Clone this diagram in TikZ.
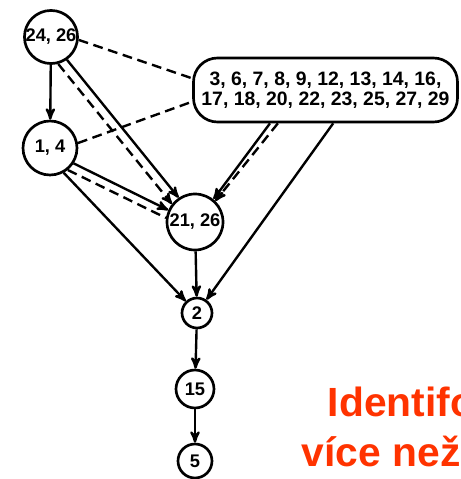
\documentclass[tikz,border=0pt]{standalone}
\usepackage{fontspec}
\setmainfont{Liberation Sans}
\usepackage{xcolor}
\usepackage{tikz}
\usetikzlibrary{calc}
\usetikzlibrary{arrows}
\definecolor{alertred}{RGB}{255,51,0}
\tikzset{
  setnode/.style={draw, circle, line width=1.9pt, inner sep=0,
    font=\bfseries\fontsize{13}{14}\selectfont},
  bigset/.style={draw, rounded corners=.6cm, line width=1.9pt,
    minimum width=6.6cm, minimum height=1.6cm, inner sep=0, align=center,
    font=\bfseries\fontsize{13.8}{14.2}\selectfont},
  dep/.style={black, line width=1.7pt, ->, >=stealth'},
  dashdep/.style={dep, dash pattern=on 7pt off 4pt},
  dashlink/.style={black, line width=1.7pt, dash pattern=on 7pt off 4pt},
  alerttext/.style={text=alertred, inner sep=0, font=\bfseries\fontsize{29}{31}\selectfont}
}
\begin{document}
\begin{tikzpicture}[scale=.5]
\useasboundingbox (0,0) rectangle (23.05,23.95);
% sets of statements
\node[setnode, minimum size=1.3cm] (s2426) at (2.55,22.1) {24, 26};
\node[setnode, minimum size=1.35cm] (s14) at (2.5,16.55) {1, 4};
\node[setnode, minimum size=1.4cm] (s2126) at (9.75,12.85) {21, 26};
\node[setnode, minimum size=.75cm] (s2) at (9.85,8.3) {2};
\node[setnode, minimum size=.95cm] (s15) at (9.75,4.5) {15};
\node[setnode, minimum size=.85cm] (s5) at (9.75,0.9) {5};
\node[bigset] (rest) at (16.275,19.45) {3, 6, 7, 8, 9, 12, 13, 14, 16,\\17, 18, 20, 22, 23, 25, 27, 29};
% dependencies
\draw[dep] (s2426) -- (s14);
\draw[dashlink] (s2426.-6) -- (rest.175.7);
\draw[dashlink] (s14.10) -- (rest.185.2);
\draw[dep] (s2426.-55) -- (s2126.124);
\draw[dashdep] (s2426.-75) -- (s2126.142);
\draw[dep] (s14.-33) -- (s2126.156);
\draw[dashlink] (s14.-51) -- (s2126.172);
\draw[dep] (s14.-61) -- (s2);
\draw[dep] (rest.211) -- (s2126.51);
\draw[dashdep] (rest.215) -- (s2126.46);
\draw[dep] (rest.283) -- (s2);
\draw[dep] (s2126) -- (s2);
\draw[dep] (s2) -- (s15);
\draw[dep] (s15) -- (s5);
% caption, cut at the right edge
\begin{scope}
\clip (0,0) rectangle (23.05,23.95);
\node[alerttext, anchor=base west] (cap1) at (16.375,3.1) {Identifo};
\node[alerttext, anchor=base west] (cap2) at (15.08,0.6) {více než};
\end{scope}
\end{tikzpicture}
\end{document}
